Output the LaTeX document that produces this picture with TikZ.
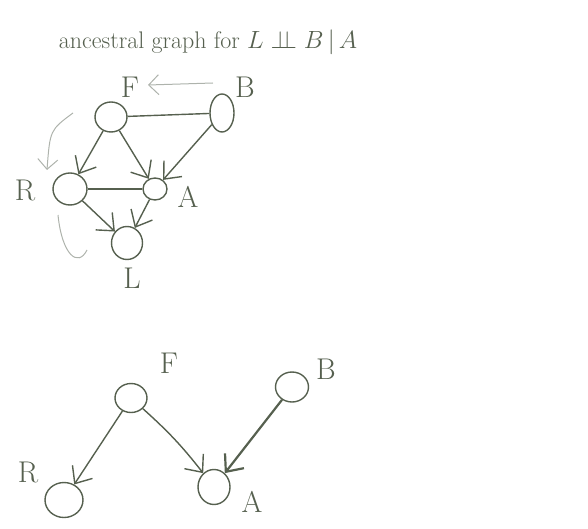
\documentclass[tikz,border=0pt]{standalone}
\usetikzlibrary{shapes.geometric,arrows.meta}
\definecolor{pencil}{HTML}{56604F}
\definecolor{faint}{HTML}{AEB3AC}
\begin{document}
\begin{tikzpicture}[x=1pt,y=-1pt,
  vertex/.style={draw=pencil,line width=1.4pt,ellipse,inner sep=0pt},
  letter/.style={text=pencil,font=\fontsize{30}{32}\selectfont},
  edge/.style={draw=pencil,line width=1.4pt},
  arc/.style={edge,-{Straight Barb[length=14pt,width=24pt]}},
  hint/.style={draw=faint,line width=1pt}]
  \useasboundingbox (0,0) rectangle (588,529);
  \node[text=pencil,font=\fontsize{24}{28}\selectfont] (title) at (208,42) {ancestral graph for $L \perp\!\!\!\perp B \,|\, A$};

  \node[vertex,minimum width=32pt,minimum height=30pt] (f1) at (111,117) {};
  \node[vertex,minimum width=24pt,minimum height=38pt] (b1) at (222,113) {};
  \node[vertex,minimum width=34pt,minimum height=32pt] (r1) at (70,189) {};
  \node[vertex,minimum width=24pt,minimum height=22pt] (a1) at (155,189) {};
  \node[vertex,minimum width=31pt,minimum height=33pt] (l1) at (127,243) {};
  \node[letter] (fl1) at (130,87) {F};
  \node[letter] (bl1) at (245,87) {B};
  \node[letter] (rl1) at (25,190) {R};
  \node[letter] (al1) at (188,197) {A};
  \node[letter] (ll1) at (132,278) {L};
  \draw[edge] (f1) -- (b1);
  \draw[edge] (r1) -- (a1);
  \draw[arc] (f1) -- (r1);
  \draw[arc] (f1) -- (a1);
  \draw[arc] (b1) -- (a1);
  \draw[arc] (r1) -- (l1);
  \draw[arc] (a1) -- (l1);
  \coordinate (h1) at (213,83);
  \coordinate (h2) at (148,85);
  \coordinate (h3) at (73,113);
  \coordinate (h4) at (47,170);
  \coordinate (h5) at (58,215);
  \coordinate (h6) at (87,250);
  \draw[hint,-{Straight Barb[length=10pt,width=20pt]}] (h1) -- (h2);
  \draw[hint,-{Straight Barb[length=10pt,width=20pt]}] (h3) .. controls (50,130) .. (h4);
  \draw[hint] (h5) .. controls (62,255) and (78,268) .. (h6);

  \node[vertex,minimum width=32pt,minimum height=29pt] (f2) at (131,398) {};
  \node[vertex,minimum width=33pt,minimum height=30pt] (b2) at (292,387) {};
  \node[vertex,minimum width=38pt,minimum height=35pt] (r2) at (64,500) {};
  \node[vertex,minimum width=32pt,minimum height=35pt] (a2) at (214,487) {};
  \node[letter] (fl2) at (169,363) {F};
  \node[letter] (bl2) at (326,369) {B};
  \node[letter] (rl2) at (28,472) {R};
  \node[letter] (al2) at (252,502) {A};
  \draw[arc] (f2) -- (r2);
  \draw[arc] (f2) to[bend left=5] (a2);
  \draw[arc,line width=2.2pt] (b2) -- (a2);
\end{tikzpicture}
\end{document}
